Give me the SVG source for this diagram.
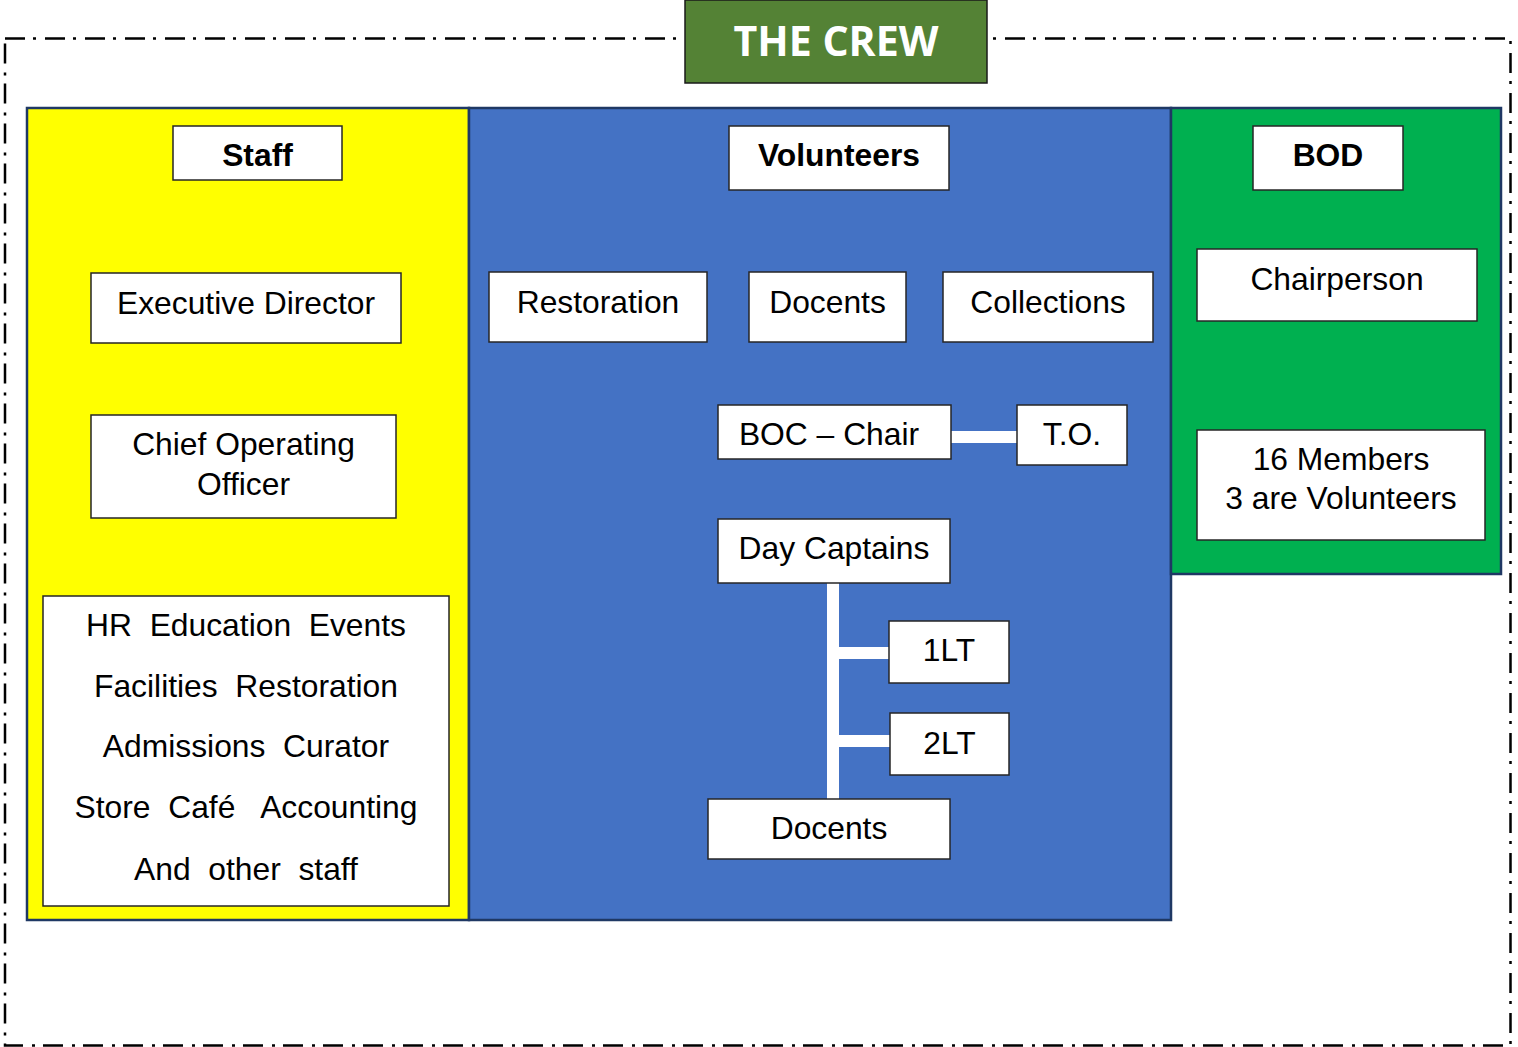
<svg xmlns="http://www.w3.org/2000/svg" width="1518" height="1047" viewBox="0 0 1518 1047">
  <style>
    .frame { fill: none; stroke: #000; stroke-width: 2.5; stroke-dasharray: 20 8 3 9; }
    .panel { stroke: #1F3864; stroke-width: 2.5; }
    .box { fill: #fff; stroke: #262626; stroke-width: 1.5; }
    .lbl { font-family: "Liberation Sans", Arial, sans-serif; font-size: 31.8px; fill: #000; text-anchor: middle; white-space: pre; }
    .hdr { font-weight: bold; }
    .title { font-family: "Open Sans", "Liberation Sans", sans-serif; font-weight: bold; font-size: 42px; fill: #fff; text-anchor: middle; }
    .link { stroke: #fff; stroke-width: 12; fill: none; }
  </style>

  <!-- outer dash-dot frame -->
  <rect class="frame" x="5" y="38.5" width="1505.5" height="1007"/>

  <!-- title banner -->
  <g id="title">
    <rect x="685" y="0" width="302" height="83" fill="#548235" stroke="#1a1a1a" stroke-width="1.5"/>
    <text class="title" x="836" y="56" textLength="205" lengthAdjust="spacingAndGlyphs">THE CREW</text>
  </g>

  <!-- column panels -->
  <g id="panel-staff">
    <rect class="panel" x="27" y="108" width="442" height="812" fill="#FFFF00"/>
  </g>
  <g id="panel-volunteers">
    <rect class="panel" x="469" y="108" width="702" height="812" fill="#4472C4"/>
  </g>
  <g id="panel-bod">
    <rect class="panel" x="1171" y="108" width="330" height="466" fill="#00B050"/>
  </g>

  <!-- connectors -->
  <g id="connectors">
    <line class="link" x1="951" y1="437" x2="1017" y2="437"/>
    <line class="link" x1="833" y1="583" x2="833" y2="799"/>
    <line class="link" x1="833" y1="653" x2="889" y2="653"/>
    <line class="link" x1="833" y1="741" x2="890" y2="741"/>
  </g>

  <!-- staff column -->
  <g id="staff-header">
    <rect class="box" x="173" y="126" width="169" height="54"/>
    <text class="lbl hdr" x="257.5" y="166">Staff</text>
  </g>
  <g id="executive-director">
    <rect class="box" x="91" y="273" width="310" height="70"/>
    <text class="lbl" x="246" y="314">Executive Director</text>
  </g>
  <g id="coo">
    <rect class="box" x="91" y="415" width="305" height="103"/>
    <text class="lbl" x="243.5" y="455">Chief Operating</text>
    <text class="lbl" x="243.5" y="495">Officer</text>
  </g>
  <g id="staff-roles">
    <rect class="box" x="43" y="596" width="406" height="310"/>
    <text class="lbl" x="246" y="636">HR  Education  Events</text>
    <text class="lbl" x="246" y="697">Facilities  Restoration</text>
    <text class="lbl" x="246" y="757">Admissions  Curator</text>
    <text class="lbl" x="246" y="818">Store  Café   Accounting</text>
    <text class="lbl" x="246" y="880">And  other  staff</text>
  </g>

  <!-- volunteers column -->
  <g id="volunteers-header">
    <rect class="box" x="729" y="126" width="220" height="64"/>
    <text class="lbl hdr" x="839" y="166">Volunteers</text>
  </g>
  <g id="restoration">
    <rect class="box" x="489" y="272" width="218" height="70"/>
    <text class="lbl" x="598" y="313">Restoration</text>
  </g>
  <g id="docents-top">
    <rect class="box" x="749" y="272" width="157" height="70"/>
    <text class="lbl" x="827.5" y="313">Docents</text>
  </g>
  <g id="collections">
    <rect class="box" x="943" y="272" width="210" height="70"/>
    <text class="lbl" x="1048" y="313">Collections</text>
  </g>
  <g id="boc-chair">
    <rect class="box" x="718" y="405" width="233" height="54"/>
    <text class="lbl" x="829" y="445">BOC – Chair</text>
  </g>
  <g id="to">
    <rect class="box" x="1017" y="405" width="110" height="60"/>
    <text class="lbl" x="1072" y="445">T.O.</text>
  </g>
  <g id="day-captains">
    <rect class="box" x="718" y="519" width="232" height="64"/>
    <text class="lbl" x="834" y="559">Day Captains</text>
  </g>
  <g id="first-lt">
    <rect class="box" x="889" y="621" width="120" height="62"/>
    <text class="lbl" x="949" y="661">1LT</text>
  </g>
  <g id="second-lt">
    <rect class="box" x="890" y="713" width="119" height="62"/>
    <text class="lbl" x="949.5" y="754">2LT</text>
  </g>
  <g id="docents-bottom">
    <rect class="box" x="708" y="799" width="242" height="60"/>
    <text class="lbl" x="829" y="839">Docents</text>
  </g>

  <!-- board column -->
  <g id="bod-header">
    <rect class="box" x="1253" y="126" width="150" height="64"/>
    <text class="lbl hdr" x="1328" y="166">BOD</text>
  </g>
  <g id="chairperson">
    <rect class="box" x="1197" y="249" width="280" height="72"/>
    <text class="lbl" x="1337" y="290">Chairperson</text>
  </g>
  <g id="members">
    <rect class="box" x="1197" y="430" width="288" height="110"/>
    <text class="lbl" x="1341" y="470">16 Members</text>
    <text class="lbl" x="1341" y="509">3 are Volunteers</text>
  </g>
</svg>
